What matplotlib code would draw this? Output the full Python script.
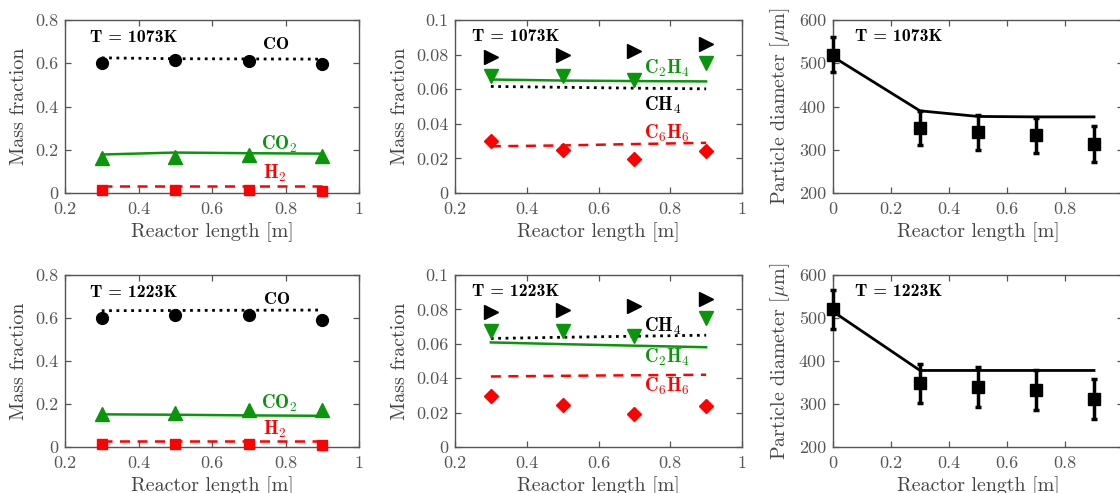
import matplotlib
matplotlib.use("Agg")
import matplotlib.pyplot as plt
from matplotlib.ticker import FixedLocator, FixedFormatter

plt.rcParams['font.family'] = ['cmr10', 'DejaVu Serif']
plt.rcParams['mathtext.fontset'] = 'cm'
plt.rcParams['axes.unicode_minus'] = False
plt.rcParams['axes.formatter.use_mathtext'] = True

# ---------------- data ----------------
x_pos = [0.3, 0.5, 0.7, 0.9]
x_model = [0.3, 0.5, 0.7, 0.9]

# T = 1073 K, major species
co_exp_1073 = [0.602, 0.615, 0.612, 0.596]
co_mod_1073 = [0.625, 0.621, 0.620, 0.619]
co2_exp_1073 = [0.162, 0.165, 0.176, 0.172]
co2_mod_1073 = [0.178, 0.187, 0.184, 0.182]
h2_exp_1073 = [0.016, 0.016, 0.015, 0.011]
h2_mod_1073 = [0.034, 0.034, 0.034, 0.034]

# T = 1223 K, major species
co_exp_1223 = [0.601, 0.614, 0.612, 0.593]
co_mod_1223 = [0.634, 0.635, 0.636, 0.637]
co2_exp_1223 = [0.155, 0.160, 0.171, 0.171]
co2_mod_1223 = [0.152, 0.150, 0.147, 0.145]
h2_exp_1223 = [0.016, 0.015, 0.014, 0.011]
h2_mod_1223 = [0.030, 0.030, 0.030, 0.030]

# T = 1073 K, minor species
ch4_exp_1073 = [0.0784, 0.0797, 0.0822, 0.0861]
ch4_mod_1073 = [0.0616, 0.0611, 0.0606, 0.0602]
c2h4_exp_1073 = [0.0676, 0.0676, 0.0653, 0.0749]
c2h4_mod_1073 = [0.0656, 0.0650, 0.0647, 0.0645]
c6h6_exp_1073 = [0.0301, 0.0247, 0.0195, 0.0241]
c6h6_mod_1073 = [0.0270, 0.0275, 0.0283, 0.0290]

# T = 1223 K, minor species
ch4_exp_1223 = [0.0786, 0.0796, 0.0821, 0.0860]
ch4_mod_1223 = [0.0631, 0.0638, 0.0644, 0.0650]
c2h4_exp_1223 = [0.0676, 0.0676, 0.0645, 0.0748]
c2h4_mod_1223 = [0.0608, 0.0598, 0.0589, 0.0580]
c6h6_exp_1223 = [0.0295, 0.0243, 0.0194, 0.0237]
c6h6_mod_1223 = [0.0410, 0.0414, 0.0417, 0.0420]

# particle diameter
d_x = [0.0, 0.3, 0.5, 0.7, 0.9]
d_exp_1073 = [520, 350, 340, 333, 313]
d_err_1073 = [40, 40, 40, 41, 41]
d_mod_x_1073 = [0.0, 0.3, 0.5, 0.7, 0.9]
d_mod_1073 = [515, 390, 377, 376, 376]
d_exp_1223 = [520, 348, 339, 333, 312]
d_err_1223 = [45, 46, 46, 47, 46]
d_mod_x_1223 = [0.0, 0.3, 0.5, 0.7, 0.9]
d_mod_1223 = [515, 378, 378, 378, 378]

temps = ['T = 1073K', 'T = 1223K']

x_ticks_mf = [0.2, 0.4, 0.6, 0.8, 1.0]
x_ticklabels_mf = ['0.2', '0.4', '0.6', '0.8', '1']
y_ticks_major = [0, 0.2, 0.4, 0.6, 0.8]
y_ticklabels_major = ['0', '0.2', '0.4', '0.6', '0.8']
y_ticks_minor = [0, 0.02, 0.04, 0.06, 0.08, 0.1]
y_ticklabels_minor = ['0', '0.02', '0.04', '0.06', '0.08', '0.1']
x_ticks_d = [0, 0.2, 0.4, 0.6, 0.8]
x_ticklabels_d = ['0', '0.2', '0.4', '0.6', '0.8']
y_ticks_d = [200, 300, 400, 500, 600]
y_ticklabels_d = ['200', '300', '400', '500', '600']

GREEN = '#0a960a'
RED = '#ff0000'
TICKC = '#555555'
SPINEC = '#555555'
LABC = '#444444'

fig = plt.figure(figsize=(11.2, 4.93), dpi=100)

W, H = 1120.0, 493.0
def rect(l, r, t, b):
    return [l / W, 1 - b / H, (r - l) / W, (b - t) / H]

rows = [(20, 193), (275, 447)]
cols = [(65, 359), (455, 742), (833, 1123)]

TICKFS = 13
LABFS = 14.4
BFS = 12.8
MFS = 13.5


def style(ax, xt, xtl, yt, ytl, xlim, ylim):
    ax.set_xlim(*xlim)
    ax.set_ylim(*ylim)
    ax.xaxis.set_major_locator(FixedLocator(xt))
    ax.xaxis.set_major_formatter(FixedFormatter(xtl))
    ax.yaxis.set_major_locator(FixedLocator(yt))
    ax.yaxis.set_major_formatter(FixedFormatter(ytl))
    ax.tick_params(direction='in', top=True, right=True, length=4.5,
                   width=0.9, color=TICKC, labelcolor=TICKC, labelsize=TICKFS)
    ax.tick_params(axis='x', pad=6)
    ax.tick_params(axis='y', pad=5)
    for s in ax.spines.values():
        s.set_color(SPINEC)
        s.set_linewidth(1.0)
    ax.set_xlabel('Reactor length [m]', fontsize=LABFS, color=LABC, labelpad=4)


bold = dict(family='cmb10', fontsize=BFS)

major = [
    (co_exp_1073, co_mod_1073, co2_exp_1073, co2_mod_1073, h2_exp_1073, h2_mod_1073,
     [(0.775, 0.687), (0.784, 0.225), (0.771, 0.092)]),
    (co_exp_1223, co_mod_1223, co2_exp_1223, co2_mod_1223, h2_exp_1223, h2_mod_1223,
     [(0.777, 0.687), (0.784, 0.205), (0.771, 0.080)]),
]
minor = [
    (ch4_exp_1073, ch4_mod_1073, c2h4_exp_1073, c2h4_mod_1073, c6h6_exp_1073, c6h6_mod_1073,
     [(0.78, 0.0508), (0.79, 0.0720), (0.79, 0.0344)]),
    (ch4_exp_1223, ch4_mod_1223, c2h4_exp_1223, c2h4_mod_1223, c6h6_exp_1223, c6h6_mod_1223,
     [(0.78, 0.0703), (0.79, 0.0520), (0.79, 0.0350)]),
]
diam = [
    (d_exp_1073, d_err_1073, d_mod_x_1073, d_mod_1073),
    (d_exp_1223, d_err_1223, d_mod_x_1223, d_mod_1223),
]

for r, (t, b) in enumerate(rows):
    # ---- panel 1 ----
    ax = fig.add_axes(rect(cols[0][0], cols[0][1], t, b))
    co_e, co_m, co2_e, co2_m, h2_e, h2_m, lab = major[r]
    ax.plot(x_model, co_m, ':', color='black', lw=2.0, zorder=2)
    ax.plot(x_pos, co_e, 'o', color='black', ms=8.5, zorder=3, clip_on=False)
    ax.plot(x_model, co2_m, '-', color=GREEN, lw=1.8, zorder=2)
    ax.plot(x_pos, co2_e, '^', color=GREEN, ms=10, zorder=3, clip_on=False)
    ax.plot(x_model, h2_m, '--', color=RED, lw=1.8, dashes=(4, 3), zorder=2)
    ax.plot(x_pos, h2_e, 's', color=RED, ms=7, zorder=3, clip_on=False)
    ax.text(lab[0][0], lab[0][1], 'CO', color='black', ha='center', va='center', **bold)
    ax.text(lab[1][0], lab[1][1], r'$\mathbf{CO_2}$', color=GREEN, ha='center', va='center', fontsize=MFS)
    ax.text(lab[2][0], lab[2][1], r'$\mathbf{H_2}$', color=RED, ha='center', va='center', fontsize=MFS)
    ax.text(0.268, 0.72, temps[r], color='black', ha='left', va='center', **bold)
    style(ax, x_ticks_mf, x_ticklabels_mf, y_ticks_major, y_ticklabels_major, (0.2, 1.0), (0, 0.8))
    ax.set_ylabel('Mass fraction', fontsize=LABFS, color=LABC, labelpad=5)

    # ---- panel 2 ----
    ax = fig.add_axes(rect(cols[1][0], cols[1][1], t, b))
    ch4_e, ch4_m, c2h4_e, c2h4_m, c6h6_e, c6h6_m, lab = minor[r]
    ax.plot(x_model, ch4_m, ':', color='black', lw=2.0, zorder=2)
    ax.plot(x_pos, ch4_e, '>', color='black', ms=9.5, zorder=3)
    ax.plot(x_model, c2h4_m, '-', color=GREEN, lw=1.8, zorder=2)
    ax.plot(x_pos, c2h4_e, 'v', color=GREEN, ms=9.5, zorder=3)
    ax.plot(x_model, c6h6_m, '--', color=RED, lw=1.8, dashes=(4, 3), zorder=2)
    ax.plot(x_pos, c6h6_e, 'D', color=RED, ms=7.5, zorder=3)
    ax.text(lab[0][0], lab[0][1], r'$\mathbf{CH_4}$', color='black', ha='center', va='center', fontsize=MFS)
    ax.text(lab[1][0], lab[1][1], r'$\mathbf{C_2H_4}$', color=GREEN, ha='center', va='center', fontsize=MFS)
    ax.text(lab[2][0], lab[2][1], r'$\mathbf{C_6H_6}$', color=RED, ha='center', va='center', fontsize=MFS)
    ax.text(0.246, 0.0903, temps[r], color='black', ha='left', va='center', **bold)
    style(ax, x_ticks_mf, x_ticklabels_mf, y_ticks_minor, y_ticklabels_minor, (0.2, 1.0), (0, 0.1))
    ax.set_ylabel('Mass fraction', fontsize=LABFS, color=LABC, labelpad=5)

    # ---- panel 3 ----
    ax = fig.add_axes(rect(cols[2][0], cols[2][1], t, b))
    d_e, d_err, d_mx, d_m = diam[r]
    ax.plot(d_mx, d_m, '-', color='black', lw=2.0, zorder=2)
    ax.errorbar(d_x, d_e, yerr=d_err, fmt='s', color='black', ms=8.5, elinewidth=2.5,
                capsize=2.5, capthick=2.5, zorder=3, clip_on=False)
    ax.text(0.075, 561, temps[r], color='black', ha='left', va='center', **bold)
    style(ax, x_ticks_d, x_ticklabels_d, y_ticks_d, y_ticklabels_d, (0, 1.0), (200, 600))
    ax.set_ylabel(r'Particle diameter [$\mu$m]', fontsize=LABFS, color=LABC, labelpad=5)

fig.savefig('out.png', dpi=100)
